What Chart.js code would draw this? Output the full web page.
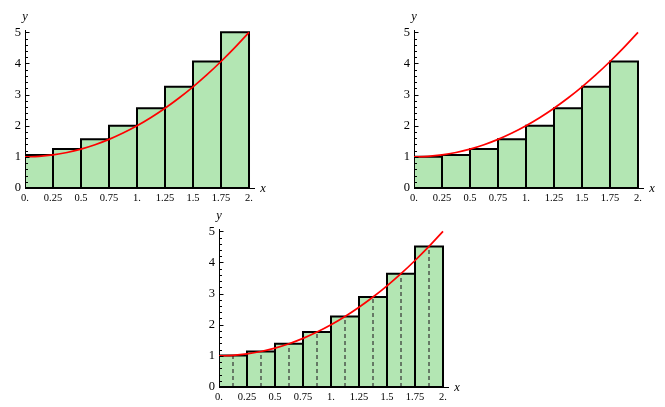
<!DOCTYPE html>
<html><head><meta charset="utf-8">
<script src="https://cdn.jsdelivr.net/npm/chart.js@4.4.1/dist/chart.umd.min.js"></script>
<style>
html,body{margin:0;padding:0;background:#fff;overflow:hidden;width:665px;height:407px;}
canvas{position:absolute;}
</style></head><body>
<canvas id="c1" width="280" height="210" style="left:1px;top:0px;width:280px;height:210px"></canvas>
<canvas id="c2" width="280" height="210" style="left:390px;top:0px;width:280px;height:210px"></canvas>
<canvas id="c3" width="280" height="210" style="left:195px;top:199px;width:280px;height:210px"></canvas>
<script>
// ---- data ----
const xMid = [0.125, 0.375, 0.625, 0.875, 1.125, 1.375, 1.625, 1.875];
const xEdges = [0, 0.25, 0.5, 0.75, 1, 1.25, 1.5, 1.75, 2];
const rightHeights = [1.0625, 1.25, 1.5625, 2, 2.5625, 3.25, 4.0625, 5];
const leftHeights = [1, 1.0625, 1.25, 1.5625, 2, 2.5625, 3.25, 4.0625];
const midHeights = [1.0156, 1.1406, 1.3906, 1.7656, 2.2656, 2.8906, 3.6406, 4.5156];
const curveX = [0, 0.125, 0.25, 0.375, 0.5, 0.625, 0.75, 0.875, 1, 1.125, 1.25, 1.375, 1.5, 1.625, 1.75, 1.875, 2];
const curveY = [1, 1.0156, 1.0625, 1.1406, 1.25, 1.3906, 1.5625, 1.7656, 2, 2.2656, 2.5625, 2.8906, 3.25, 3.6406, 4.0625, 4.5156, 5];
const xTickVals = [0, 0.25, 0.5, 0.75, 1, 1.25, 1.5, 1.75, 2];
const xTickLabels = ["0.", "0.25", "0.5", "0.75", "1.", "1.25", "1.5", "1.75", "2."];
const yMajor = [0, 1, 2, 3, 4, 5];
const yMinor = [0.2, 0.4, 0.6, 0.8, 1.2, 1.4, 1.6, 1.8, 2.2, 2.4, 2.6, 2.8, 3.2, 3.4, 3.6, 3.8, 4.2, 4.4, 4.6, 4.8];

const GREEN = '#b3e6b3';
const SERIF = '"Liberation Serif", "DejaVu Serif", serif';

const decor = {
  id: 'decor',
  afterDatasetsDraw(chart) {
    const ctx = chart.ctx, ys = chart.scales.y, xs = chart.scales.x;
    const left = xs.getPixelForValue(0);
    ctx.save();
    ctx.strokeStyle = '#000';
    ctx.lineWidth = 1;
    ctx.beginPath();
    yMajor.forEach(v => { const p = Math.round(ys.getPixelForValue(v)) + 0.5; ctx.moveTo(left, p); ctx.lineTo(left + 4.5, p); });
    yMinor.forEach(v => { const p = Math.round(ys.getPixelForValue(v)) + 0.5; ctx.moveTo(left, p); ctx.lineTo(left + 3, p); });
    ctx.stroke();
    ctx.fillStyle = '#000';
    ctx.font = 'italic 12.5px ' + SERIF;
    ctx.textAlign = 'center';
    ctx.textBaseline = 'middle';
    ctx.fillText('y', left, chart.chartArea.top - 13);
    ctx.fillText('x', chart.chartArea.right + 9, ys.getPixelForValue(0) + 1);
    ctx.restore();
  }
};

function makeChart(id, heights, withDashes) {
  // rectangle outlines, built from the bar arrays
  const outline = [{x: xEdges[0], y: 0}, {x: xEdges[xEdges.length - 1], y: 0}, {x: 0, y: null}];
  heights.forEach((h, i) => {
    outline.push({x: xEdges[i], y: 0}, {x: xEdges[i], y: h}, {x: xEdges[i + 1], y: h}, {x: xEdges[i + 1], y: 0}, {x: xEdges[i + 1], y: null});
  });
  const datasets = [
    {
      type: 'line',
      data: curveX.map((x, i) => ({x: x, y: curveY[i]})),
      borderColor: '#ff0000',
      borderWidth: 1.7,
      pointRadius: 0,
      cubicInterpolationMode: 'monotone',
      fill: false,
      order: 0
    },
    {
      type: 'line',
      data: outline,
      borderColor: '#000',
      borderWidth: 2,
      borderJoinStyle: 'miter',
      borderCapStyle: 'square',
      pointRadius: 0,
      spanGaps: false,
      fill: false,
      order: 1
    },
    {
      type: 'bar',
      data: xMid.map((x, i) => ({x: x, y: heights[i]})),
      backgroundColor: GREEN,
      borderWidth: 0,
      barPercentage: 1,
      categoryPercentage: 1,
      inflateAmount: 0,
      order: 3
    }
  ];
  if (withDashes) {
    const pts = [];
    xMid.forEach((x, i) => { pts.push({x: x, y: 0}); pts.push({x: x, y: heights[i]}); pts.push({x: x, y: null}); });
    datasets.push({
      type: 'line',
      data: pts,
      borderColor: '#333333',
      borderWidth: 1.2,
      borderDash: [4, 3],
      pointRadius: 0,
      spanGaps: false,
      fill: false,
      order: 2
    });
  }
  return new Chart(document.getElementById(id), {
    type: 'bar',
    data: {datasets: datasets},
    options: {
      responsive: false,
      animation: false,
      events: [],
      devicePixelRatio: 1,
      layout: {padding: {top: 30, right: 27, bottom: 0, left: 0}},
      plugins: {legend: {display: false}, tooltip: {enabled: false}},
      scales: {
        x: {
          type: 'linear',
          min: 0, max: 2.0446,
          offset: false,
          grid: {offset: false, drawOnChartArea: false, drawTicks: false},
          border: {display: true, color: '#000', width: 1},
          afterBuildTicks: (s) => { s.ticks = xTickVals.map(v => ({value: v})); },
          afterFit: (s) => { s.height = 22; },
          ticks: {
            autoSkip: false, maxRotation: 0, padding: 4, color: '#000',
            font: {family: SERIF, size: 10.5},
            callback: (v, i) => xTickLabels[i]
          }
        },
        y: {
          type: 'linear',
          min: 0, max: 5.074,
          grid: {drawOnChartArea: false, drawTicks: false},
          border: {display: true, color: '#000', width: 1},
          afterBuildTicks: (s) => { s.ticks = yMajor.map(v => ({value: v})); },
          afterFit: (s) => { s.width = 24; },
          ticks: {
            padding: 4, color: '#000',
            font: {family: SERIF, size: 12.5},
            callback: (v) => String(v)
          }
        }
      }
    },
    plugins: [decor]
  });
}

makeChart('c1', rightHeights, false);
makeChart('c2', leftHeights, false);
makeChart('c3', midHeights, true);
</script>
</body></html>
